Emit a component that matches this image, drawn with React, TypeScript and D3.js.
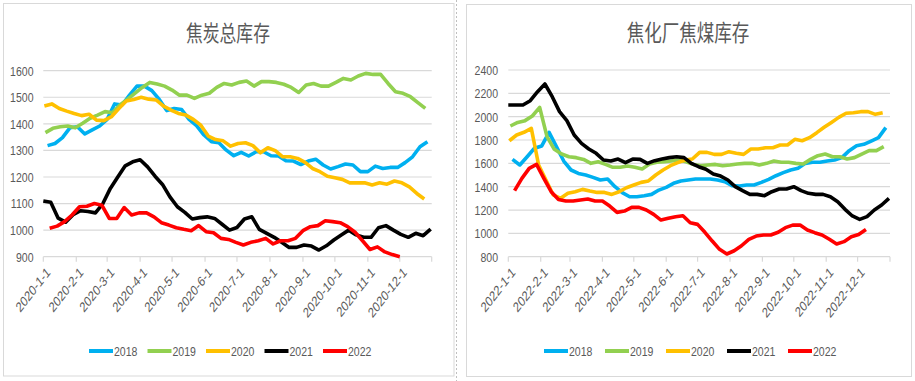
import React from "react";
import * as d3 from "d3";

// ---------- DATA ----------
const years = ["2018", "2019", "2020", "2021", "2022"];

// 焦炭总库存 (weekly, x mapped on 2020 calendar)
const cokeStarts = ["2020-01-05", "2020-01-03", "2020-01-02", "2020-01-01", "2020-01-07"];
const coke2018 = [1318, 1326, 1348, 1385, 1389, 1362, 1377, 1392, 1417, 1475, 1471, 1508, 1542, 1542, 1525, 1492, 1450, 1458, 1454, 1417, 1393, 1358, 1333, 1329, 1301, 1280, 1293, 1279, 1295, 1295, 1280, 1279, 1261, 1260, 1247, 1260, 1267, 1245, 1230, 1239, 1249, 1245, 1220, 1220, 1241, 1232, 1236, 1236, 1254, 1276, 1314, 1333];
const coke2019 = [1367, 1383, 1389, 1392, 1385, 1402, 1421, 1433, 1446, 1442, 1471, 1492, 1515, 1537, 1556, 1550, 1542, 1527, 1508, 1508, 1496, 1508, 1515, 1537, 1552, 1546, 1556, 1561, 1542, 1559, 1559, 1556, 1549, 1537, 1518, 1546, 1552, 1542, 1542, 1556, 1571, 1565, 1580, 1590, 1586, 1586, 1552, 1521, 1515, 1502, 1480, 1458];
const coke2020 = [1467, 1475, 1458, 1448, 1439, 1431, 1436, 1414, 1412, 1427, 1458, 1486, 1492, 1500, 1493, 1490, 1467, 1452, 1439, 1433, 1417, 1395, 1354, 1341, 1336, 1316, 1326, 1329, 1318, 1291, 1310, 1299, 1276, 1276, 1270, 1255, 1232, 1220, 1203, 1197, 1191, 1178, 1178, 1178, 1170, 1178, 1173, 1185, 1178, 1163, 1138, 1117];
const coke2021 = [1110, 1105, 1045, 1030, 1058, 1073, 1070, 1065, 1100, 1157, 1200, 1242, 1257, 1265, 1238, 1203, 1172, 1125, 1088, 1067, 1042, 1047, 1050, 1044, 1022, 1000, 1010, 1042, 1050, 1003, 988, 973, 954, 935, 935, 944, 940, 925, 941, 963, 982, 1000, 982, 973, 973, 1009, 1017, 1000, 984, 973, 988, 979, 1004];
const coke2022 = [1007, 1015, 1032, 1057, 1088, 1090, 1100, 1094, 1044, 1044, 1085, 1057, 1065, 1065, 1050, 1028, 1019, 1009, 1003, 998, 1017, 994, 990, 969, 965, 954, 944, 954, 960, 969, 948, 960, 960, 969, 998, 1013, 1017, 1035, 1032, 1028, 1013, 992, 960, 927, 937, 918, 908, 900];
const cokeTicks = [900, 1000, 1100, 1200, 1300, 1400, 1500, 1600];

// 焦化厂焦煤库存 (weekly, x mapped on 2022 calendar)
const coalStarts = ["2022-01-05", "2022-01-03", "2022-01-02", "2022-01-01", "2022-01-07"];
const coal2018 = [1634, 1586, 1657, 1729, 1749, 1866, 1743, 1620, 1543, 1514, 1500, 1480, 1457, 1466, 1400, 1349, 1314, 1314, 1323, 1334, 1371, 1394, 1429, 1449, 1457, 1466, 1466, 1466, 1457, 1443, 1409, 1406, 1414, 1414, 1437, 1463, 1494, 1520, 1543, 1557, 1600, 1609, 1609, 1620, 1629, 1649, 1709, 1751, 1763, 1791, 1820, 1906];
const coal2019 = [1920, 1951, 1966, 2006, 2080, 1829, 1720, 1680, 1657, 1649, 1634, 1600, 1614, 1591, 1566, 1566, 1577, 1566, 1551, 1594, 1609, 1614, 1620, 1629, 1614, 1591, 1580, 1586, 1591, 1580, 1586, 1594, 1600, 1600, 1586, 1600, 1620, 1609, 1609, 1600, 1594, 1634, 1666, 1680, 1657, 1657, 1637, 1649, 1680, 1709, 1709, 1743];
const coal2020 = [1794, 1843, 1866, 1900, 1586, 1457, 1329, 1300, 1343, 1357, 1377, 1363, 1351, 1351, 1334, 1357, 1391, 1414, 1437, 1449, 1500, 1543, 1580, 1606, 1629, 1637, 1694, 1694, 1677, 1677, 1700, 1686, 1677, 1723, 1723, 1734, 1734, 1757, 1757, 1806, 1794, 1820, 1863, 1909, 1951, 1994, 2029, 2034, 2043, 2043, 2020, 2034];
const coal2021 = [2100, 2100, 2100, 2137, 2214, 2280, 2171, 2043, 1966, 1843, 1771, 1723, 1686, 1629, 1620, 1637, 1606, 1637, 1634, 1600, 1623, 1637, 1649, 1657, 1649, 1600, 1571, 1549, 1509, 1491, 1457, 1400, 1366, 1334, 1334, 1323, 1357, 1380, 1380, 1400, 1366, 1343, 1334, 1334, 1314, 1271, 1206, 1149, 1120, 1143, 1200, 1243, 1300];
const coal2022 = [1366, 1471, 1557, 1591, 1471, 1357, 1291, 1277, 1277, 1286, 1294, 1277, 1277, 1234, 1180, 1191, 1223, 1223, 1200, 1163, 1114, 1129, 1143, 1151, 1091, 1077, 1009, 934, 863, 823, 851, 894, 949, 977, 986, 986, 1009, 1049, 1071, 1071, 1029, 1006, 986, 949, 909, 929, 971, 991, 1034];
const coalTicks = [800, 1000, 1200, 1400, 1600, 1800, 2000, 2200, 2400];

// ---------- STYLE ----------
const COLORS = ["#00B0F0", "#92D050", "#FFC000", "#000000", "#FF0000"];
const TEXT = "#595959";
const GRID = "#d9d9d9";
const SX = 0.78;
const FONT = "'Liberation Sans', Arial, sans-serif";
const CJK = "'Noto Sans CJK SC', 'Noto Sans', sans-serif";

const parse = d3.utcParse("%Y-%m-%d");
const fmt = (d: Date) => `${d.getUTCFullYear()}-${d.getUTCMonth() + 1}-${d.getUTCDate()}`;

type PanelProps = {
  title: string;
  titleSize: number;
  titleX: number;
  xRange: [number, number];
  yRange: [number, number];
  dateDomain: [string, string];
  yTicks: number[];
  starts: string[];
  data: number[][];
  labelX: number;
  legendX: number;
  legendStep: number;
};

function Panel(p: PanelProps) {
  const d0 = parse(p.dateDomain[0])!;
  const d1 = parse(p.dateDomain[1])!;
  const x = d3.scaleUtc().domain([d0, d1]).range(p.xRange);
  const y = d3
    .scaleLinear()
    .domain([p.yTicks[0], p.yTicks[p.yTicks.length - 1]])
    .range(p.yRange);
  const months = d3.utcMonth.range(d0, d1);
  const line = d3
    .line<{ date: Date; v: number }>()
    .x((d) => x(d.date))
    .y((d) => y(d.v));
  const axisY = y(p.yTicks[0]);
  const legendY = 351;
  return (
    <g>
      <text
        transform={`translate(${p.titleX},41) scale(${SX},1)`}
        textAnchor="middle"
        fontFamily={CJK}
        fontSize={p.titleSize}
        fill={TEXT}
      >
        {p.title}
      </text>
      {p.yTicks.map((t) => (
        <g key={t}>
          <line
            x1={p.xRange[0]}
            x2={p.xRange[1]}
            y1={y(t)}
            y2={y(t)}
            stroke={GRID}
            strokeWidth={1.2}
          />
          <text
            transform={`translate(${p.labelX},${y(t)}) scale(${SX},1)`}
            textAnchor="end"
            dy="0.36em"
            fontFamily={FONT}
            fontSize={13.5}
            fill={TEXT}
          >
            {t}
          </text>
        </g>
      ))}
      {[...months, d1].map((m, i) => (
        <line
          key={"tk" + i}
          x1={x(m)}
          x2={x(m)}
          y1={axisY}
          y2={axisY + 5}
          stroke={GRID}
          strokeWidth={1.2}
        />
      ))}
      {months.map((m, i) => (
        <text
          key={"tl" + i}
          transform={`translate(${x(m) + 5},${axisY + 13}) scale(${SX},1) rotate(-45)`}
          textAnchor="end"
          dy="0.36em"
          fontFamily={FONT}
          fontSize={14}
          fill={TEXT}
        >
          {fmt(m)}
        </text>
      ))}
      {p.data.map((vals, si) => {
        const start = parse(p.starts[si])!;
        const pts = vals.map((v, i) => ({ date: d3.utcDay.offset(start, i * 7), v }));
        return (
          <path
            key={"s" + si}
            d={line(pts) || ""}
            fill="none"
            stroke={COLORS[si]}
            strokeWidth={3.6}
            strokeLinejoin="round"
          />
        );
      })}
      {years.map((yr, i) => {
        const lx = p.legendX + i * p.legendStep;
        return (
          <g key={"lg" + yr}>
            <line x1={lx} x2={lx + 24} y1={legendY} y2={legendY} stroke={COLORS[i]} strokeWidth={4} />
            <text
              transform={`translate(${lx + 25},${legendY}) scale(${SX},1)`}
              dy="0.36em"
              fontFamily={FONT}
              fontSize={13.5}
              fill={TEXT}
            >
              {yr}
            </text>
          </g>
        );
      })}
    </g>
  );
}

export default function App() {
  return (
    <div style={{ position: "absolute", left: 0, top: 0 }}>
      <svg width={915} height={381} style={{ display: "block", background: "#fff" }}>
        <rect x={0} y={0} width={915} height={381} fill="#fff" />
        <rect x={3.5} y={3.5} width={450.5} height={372.5} fill="none" stroke={GRID} />
        <rect x={466.5} y={4.5} width={445} height={372} fill="none" stroke={GRID} />
        <line x1={456.5} x2={456.5} y1={0} y2={381} stroke="#bfbfbf" strokeDasharray="2,2" />
        <Panel
          title="焦炭总库存"
          titleSize={21.5}
          titleX={228}
          xRange={[43.3, 431.7]}
          yRange={[256.7, 70.7]}
          dateDomain={["2020-01-01", "2020-12-31"]}
          yTicks={cokeTicks}
          starts={cokeStarts}
          data={[coke2018, coke2019, coke2020, coke2021, coke2022]}
          labelX={33.5}
          legendX={89}
          legendStep={58.5}
        />
        <Panel
          title="焦化厂焦煤库存"
          titleSize={22.5}
          titleX={688}
          xRange={[508.3, 890]}
          yRange={[256.7, 70]}
          dateDomain={["2022-01-01", "2023-01-01"]}
          yTicks={coalTicks}
          starts={coalStarts}
          data={[coal2018, coal2019, coal2020, coal2021, coal2022]}
          labelX={498}
          legendX={544}
          legendStep={61}
        />
      </svg>
    </div>
  );
}
